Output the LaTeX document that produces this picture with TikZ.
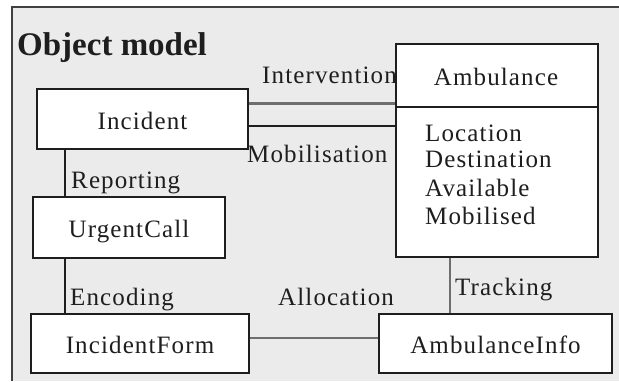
\documentclass[tikz,border=0pt]{standalone}
\usepackage{fontspec}
\setmainfont{Liberation Serif}
\newfontfamily\lblfont{Liberation Serif}[LetterSpace=4.5]
\definecolor{panelbg}{HTML}{EBEBEB}
\definecolor{inkdark}{HTML}{1E1E1E}
\definecolor{inkgray}{HTML}{6E6E6E}
\begin{document}
\begin{tikzpicture}[x=1pt,y=-1pt,
  lbl/.style={inner sep=0pt,anchor=base west,font=\lblfont\fontsize{25}{28}\selectfont,text=inkdark},
  classbox/.style={draw=inkdark,line width=1.6pt,fill=white,inner sep=0pt,
    font=\lblfont\fontsize{25}{28}\selectfont,text=inkdark,text height=20pt,text depth=0pt},
  link/.style={draw=inkdark,line width=1.5pt},
  greylink/.style={draw=inkgray,line width=2pt}]
\useasboundingbox (0,0) rectangle (619,381);
% panel
\fill[panelbg] (12,7) rectangle (619,381);
\draw[draw=inkdark!85,line width=1.5pt] (12,381) -- (12,7) -- (619,7);
% title
\node[inner sep=0pt,anchor=base west,font=\bfseries\fontsize{33}{38}\selectfont,text=inkdark] (title) at (17,55) {Object model};
% classes
\node[classbox,minimum width=211pt,minimum height=60pt] (inc) at (142.5,119) {Incident};
\node[classbox,minimum width=192pt,minimum height=61pt] (call) at (129,227.5) {UrgentCall};
\node[classbox,minimum width=218pt,minimum height=59pt] (form) at (140,343.5) {IncidentForm};
\node[classbox,minimum width=233pt,minimum height=59pt] (info) at (495.5,343.5) {AmbulanceInfo};
\node[classbox,minimum width=202pt,minimum height=213pt] (amb) at (497,150.5) {};
\coordinate (ambdiv) at (396,107);
\draw[draw=inkdark,line width=1.6pt] (ambdiv) -- (ambdiv -| amb.east);
\node[lbl,anchor=base] (ambname) at (496,85) {Ambulance};
\node[lbl] (attr1) at (425,141) {Location};
\node[lbl] (attr2) at (425,167) {Destination};
\node[lbl] (attr3) at (425,196) {Available};
\node[lbl] (attr4) at (425,224) {Mobilised};
% associations
\draw[draw=inkgray,line width=3pt] (inc.east |- 0,103) -- (amb.west |- 0,103);
\draw[link] (inc.east |- 0,126) -- (amb.west |- 0,126);
\draw[link] (inc.south -| 65,0) -- (call.north -| 65,0);
\draw[link] (call.south -| 65,0) -- (form.north -| 65,0);
\draw[greylink] (form.east |- 0,338) -- (info.west |- 0,338);
\draw[greylink] (amb.south -| 450,0) -- (info.north -| 450,0);
% association labels
\node[lbl] (l1) at (262,83) {Intervention};
\node[lbl] (l2) at (247,162) {Mobilisation};
\node[lbl] (l3) at (71,188) {Reporting};
\node[lbl] (l4) at (70,305) {Encoding};
\node[lbl] (l5) at (278,305) {Allocation};
\node[lbl] (l6) at (455,295) {Tracking};
\end{tikzpicture}
\end{document}
